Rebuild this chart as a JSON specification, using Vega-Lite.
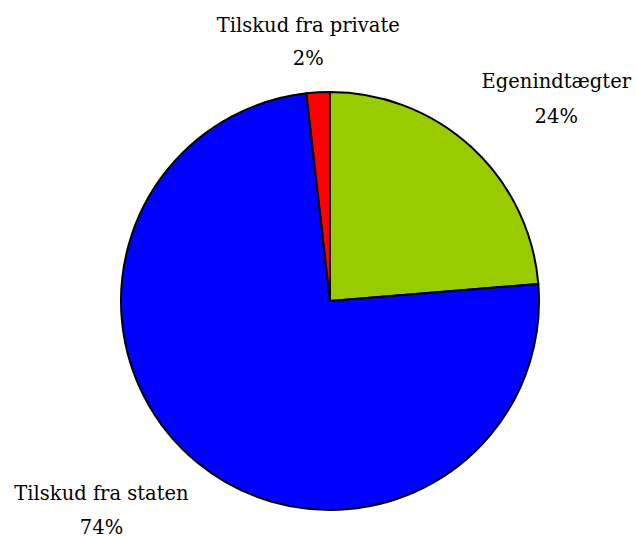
{
  "$schema": "https://vega.github.io/schema/vega-lite/v6.json",
  "width": 612,
  "height": 470,
  "autosize": {"type": "none"},
  "padding": {"left": 24, "top": 66, "right": 0, "bottom": 0},
  "background": "white",
  "config": {"view": {"stroke": null}},
  "data": {
    "values": [
      {"kilde": "Egenindtægter", "andel": 23.7, "label": "Egenindtægter\n24%", "idx": 1},
      {"kilde": "Tilskud fra staten", "andel": 74.5, "label": "Tilskud fra staten\n74%", "idx": 2},
      {"kilde": "Tilskud fra private", "andel": 1.8, "label": "Tilskud fra private\n2%", "idx": 3}
    ]
  },
  "encoding": {
    "theta": {"field": "andel", "type": "quantitative", "stack": true},
    "order": {"field": "idx", "type": "quantitative"}
  },
  "layer": [
    {
      "mark": {"type": "arc", "outerRadius": 209, "stroke": "black", "strokeWidth": 2},
      "encoding": {
        "color": {
          "field": "kilde",
          "type": "nominal",
          "scale": {"domain": ["Egenindtægter", "Tilskud fra staten", "Tilskud fra private"], "range": ["#99CC00", "#0000FF", "#FF0000"]},
          "legend": null
        }
      }
    },
    {
      "mark": {"type": "text", "radius": 300, "dx": 23, "dy": 2, "font": "DejaVu Serif", "fontSize": 19.5, "lineHeight": 35, "lineBreak": "\n", "align": "center", "baseline": "middle", "color": "black"},
      "encoding": {
        "detail": {"field": "kilde", "type": "nominal"},
        "text": {"condition": {"test": "datum.kilde === 'Egenindtægter'", "field": "label", "type": "nominal"}, "value": ""}
      }
    },
    {
      "mark": {"type": "text", "radius": 300, "dx": -38, "dy": -39, "font": "DejaVu Serif", "fontSize": 19.5, "lineHeight": 34, "lineBreak": "\n", "align": "center", "baseline": "middle", "color": "black"},
      "encoding": {
        "detail": {"field": "kilde", "type": "nominal"},
        "text": {"condition": {"test": "datum.kilde === 'Tilskud fra staten'", "field": "label", "type": "nominal"}, "value": ""}
      }
    },
    {
      "mark": {"type": "text", "radius": 260, "dx": -7, "dy": -15, "font": "DejaVu Serif", "fontSize": 19.5, "lineHeight": 33, "lineBreak": "\n", "align": "center", "baseline": "middle", "color": "black"},
      "encoding": {
        "detail": {"field": "kilde", "type": "nominal"},
        "text": {"condition": {"test": "datum.kilde === 'Tilskud fra private'", "field": "label", "type": "nominal"}, "value": ""}
      }
    }
  ]
}
